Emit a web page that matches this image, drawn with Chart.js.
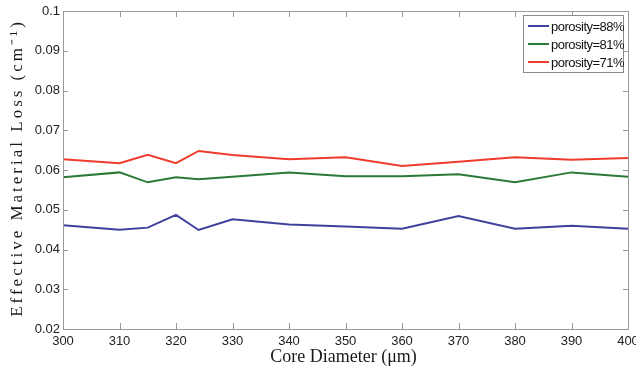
<!DOCTYPE html>
<html>
<head>
<meta charset="utf-8">
<script src="https://cdn.jsdelivr.net/npm/chart.js@4"></script>
<style>
  html, body { margin: 0; padding: 0; background: #fff; }
  #wrap { width: 636px; height: 371px; }
</style>
</head>
<body>
<div id="wrap"><canvas id="chart" width="636" height="371"></canvas></div>
<script>
// core diameters (um)
const diameters = [300, 310, 315, 320, 324, 330, 340, 350, 360, 370, 380, 390, 400];
const loss88 = [0.0461, 0.0450, 0.0455, 0.0487, 0.0449, 0.0476, 0.0463, 0.0458, 0.0452, 0.0484, 0.0452, 0.0460, 0.0452];
const loss81 = [0.0582, 0.0594, 0.0569, 0.0582, 0.0577, 0.0583, 0.0594, 0.0584, 0.0584, 0.0589, 0.0569, 0.0594, 0.0583];
const loss71 = [0.0627, 0.0617, 0.0638, 0.0617, 0.0648, 0.0638, 0.0627, 0.0632, 0.0610, 0.0621, 0.0632, 0.0626, 0.0630];
const xTicks = [300, 310, 320, 330, 340, 350, 360, 370, 380, 390, 400];
const yTicks = [0.02, 0.03, 0.04, 0.05, 0.06, 0.07, 0.08, 0.09, 0.1];

const seriesLabels = ['porosity=88%', 'porosity=81%', 'porosity=71%'];
const seriesColors = ['#40409e', '#2b7a35', '#ee3b2c'];

const toPoints = ys => ys.map((y, i) => ({ x: diameters[i], y }));

// MATLAB-like box, inward ticks, titles and legend
const matlabAxes = {
    id: 'matlabAxes',
    afterDraw(chart) {
        const { ctx, chartArea: a, scales: { x, y } } = chart;
        ctx.save();
        ctx.strokeStyle = '#9a9a9a';
        ctx.lineWidth = 1;
        ctx.strokeRect(a.left + 0.5, a.top + 0.5, a.right - a.left, a.bottom - a.top);
        ctx.beginPath();
        xTicks.forEach(v => {
            const px = Math.round(x.getPixelForValue(v)) + 0.5;
            ctx.moveTo(px, a.bottom); ctx.lineTo(px, a.bottom - 6);
            ctx.moveTo(px, a.top); ctx.lineTo(px, a.top + 6);
        });
        yTicks.forEach(v => {
            const py = Math.round(y.getPixelForValue(v)) + 0.5;
            ctx.moveTo(a.left, py); ctx.lineTo(a.left + 5, py);
            ctx.moveTo(a.right, py); ctx.lineTo(a.right - 5, py);
        });
        ctx.stroke();

        // axis titles
        ctx.fillStyle = '#1a1a1a';
        ctx.font = '18px "Liberation Serif"';
        ctx.textAlign = 'center';
        ctx.textBaseline = 'middle';
        ctx.fillText('Core Diameter (\u03bcm)', (a.left + a.right) / 2 - 2, 357);
        ctx.save();
        ctx.translate(18, 168);
        ctx.rotate(-Math.PI / 2);
        ctx.font = '17px "Liberation Serif"';
        ctx.letterSpacing = '3px';
        ctx.fillText('Effective Material Loss (cm\u207b\u00b9)', 0, 0);
        ctx.restore();

        // legend box
        const lx = 523, ly = 15, lw = 100, lh = 57;
        ctx.fillStyle = '#fff';
        ctx.fillRect(lx, ly, lw, lh);
        ctx.strokeStyle = '#8a8a8a';
        ctx.strokeRect(lx + 0.5, ly + 0.5, lw, lh);
        ctx.font = '13px "Liberation Sans"';
        ctx.letterSpacing = '-0.5px';
        ctx.textAlign = 'left';
        chart.data.datasets.forEach((ds, i) => {
            const ry = ly + 11 + i * 18;
            ctx.strokeStyle = ds.borderColor;
            ctx.lineWidth = 2;
            ctx.beginPath();
            ctx.moveTo(lx + 5, ry); ctx.lineTo(lx + 26, ry);
            ctx.stroke();
            ctx.fillStyle = '#111';
            ctx.fillText(ds.label, lx + 28, ry + 1);
        });
        ctx.restore();
    }
};

new Chart(document.getElementById('chart'), {
    type: 'line',
    data: {
        datasets: [loss88, loss81, loss71].map((ys, i) => ({
            label: seriesLabels[i],
            data: toPoints(ys),
            borderColor: seriesColors[i],
            borderWidth: 2,
            pointRadius: 0,
            tension: 0,
            fill: false,
        })),
    },
    options: {
        responsive: false,
        animation: false,
        layout: { padding: { left: 0, right: 8, top: 11, bottom: 0 } },
        plugins: { legend: { display: false }, tooltip: { enabled: false } },
        scales: {
            x: {
                type: 'linear',
                min: 300,
                max: 400,
                afterBuildTicks: s => { s.ticks = xTicks.map(v => ({ value: v })); },
                afterFit: s => { s.height = 42; s.paddingLeft = 0; s.paddingRight = 0; },
                grid: { display: false, drawTicks: false },
                border: { display: false },
                ticks: {
                    padding: 5,
                    color: '#222',
                    font: { family: 'Liberation Sans', size: 13 },
                    maxRotation: 0,
                    autoSkip: false,
                },
            },
            y: {
                min: 0.02,
                max: 0.1,
                afterBuildTicks: s => { s.ticks = yTicks.map(v => ({ value: v })); },
                afterFit: s => { s.width = 63; s.paddingTop = 0; s.paddingBottom = 0; },
                grid: { display: false, drawTicks: false },
                border: { display: false },
                ticks: {
                    padding: 3,
                    color: '#222',
                    font: { family: 'Liberation Sans', size: 13 },
                    callback: v => String(Math.round(v * 100) / 100),
                },
            },
        },
    },
    plugins: [matlabAxes],
});
</script>
</body>
</html>
